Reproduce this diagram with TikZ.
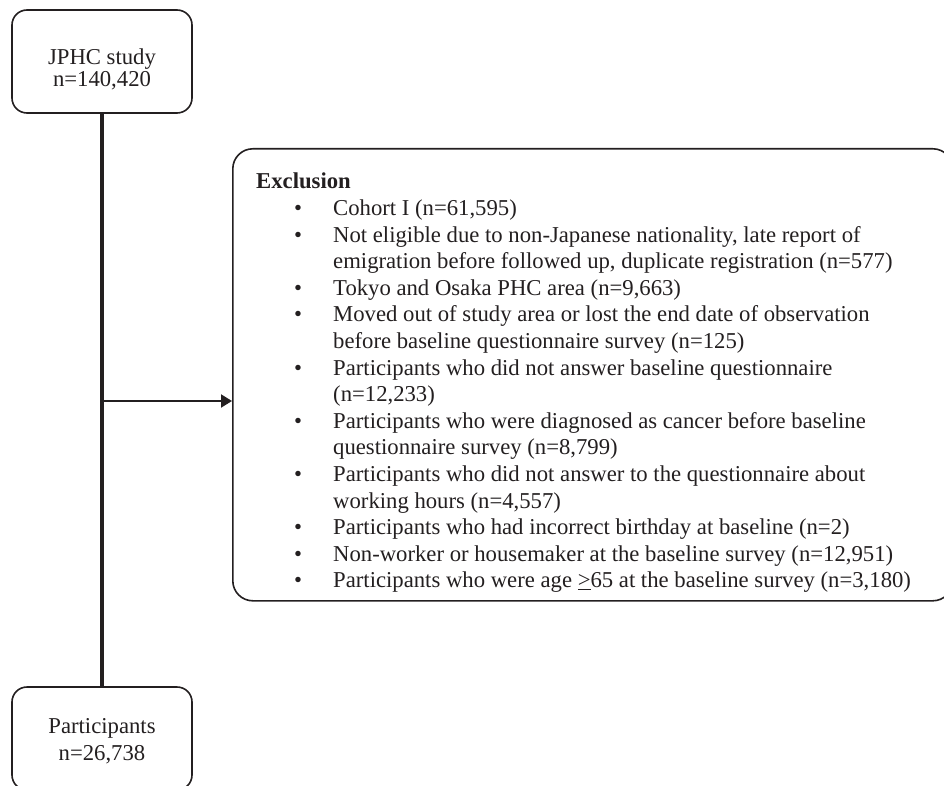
\documentclass[tikz,border=0pt]{standalone}
\usepackage{fontspec}
\setmainfont{Liberation Serif}
\usetikzlibrary{arrows.meta, positioning, calc}
\definecolor{inkGray}{HTML}{231F20}
\newcommand{\bul}{\makebox[77pt][l]{\hspace{38pt}\textbullet}}
\newcommand{\cont}{\makebox[77pt]{}}

\begin{document}
\begin{tikzpicture}[x=1pt, y=-1pt,
    flow/.style={rectangle, rounded corners=15pt, draw=inkGray, line width=1.6pt, minimum width=180pt,
      minimum height=103pt},
    flowtext/.style={align=center, inner sep=0pt, text=inkGray, font=\fontsize{22.7}{22.6}\selectfont},
    exbox/.style={rectangle, rounded corners=20pt, draw=inkGray, line width=1.6pt, minimum width=720pt,
      minimum height=452pt, anchor=north west},
    extext/.style={anchor=north west, align=left, inner sep=0pt, text=inkGray,
      font=\fontsize{22.7}{26.6}\selectfont},
    trunk/.style={line width=3.3pt, inkGray},
    earr/.style={-{Triangle[length=11pt, width=13pt]}, line width=2pt, inkGray}
  ]
  \useasboundingbox (0,0) rectangle (944,786);
  \clip (0,0) rectangle (944,786);

  \node[flow] (jphc) at (102,61.5) {};
  \node[flow] (part) at (102,738.5) {};
  \node[flowtext] (jphctxt) at ($(jphc.center)+(0,8)$) {JPHC study\\n=140,420};
  \node[flowtext, font=\fontsize{22.7}{27}\selectfont] (parttxt) at ($(part.center)+(0,3)$) {Participants\\n=26,738};
  \node[exbox] (excl) at (232,148) {};

  % exclusion list
  \node[extext] (exlist) at ($(excl.north west)+(24,25)$) {%
    \textbf{Exclusion}\\
    \bul Cohort I (n=61,595)\\
    \bul Not eligible due to non-Japanese nationality, late report of\\
    \cont emigration before followed up, duplicate registration (n=577)\\
    \bul Tokyo and Osaka PHC area (n=9,663)\\
    \bul Moved out of study area or lost the end date of observation\\
    \cont before baseline questionnaire survey (n=125)\\
    \bul Participants who did not answer baseline questionnaire\\
    \cont (n=12,233)\\
    \bul Participants who were diagnosed as cancer before baseline\\
    \cont questionnaire survey (n=8,799)\\
    \bul Participants who did not answer to the questionnaire about\\
    \cont working hours (n=4,557)\\
    \bul Participants who had incorrect birthday at baseline (n=2)\\
    \bul Non-worker or housemaker at the baseline survey (n=12,951)\\
    \bul Participants who were age \underline{>}65 at the baseline survey (n=3,180)};

  \coordinate (split) at (102,401);
  \draw[trunk] (jphc.south) -- (part.north);
  \draw[earr] (split) -- (split -| excl.west);
\end{tikzpicture}
\end{document}
